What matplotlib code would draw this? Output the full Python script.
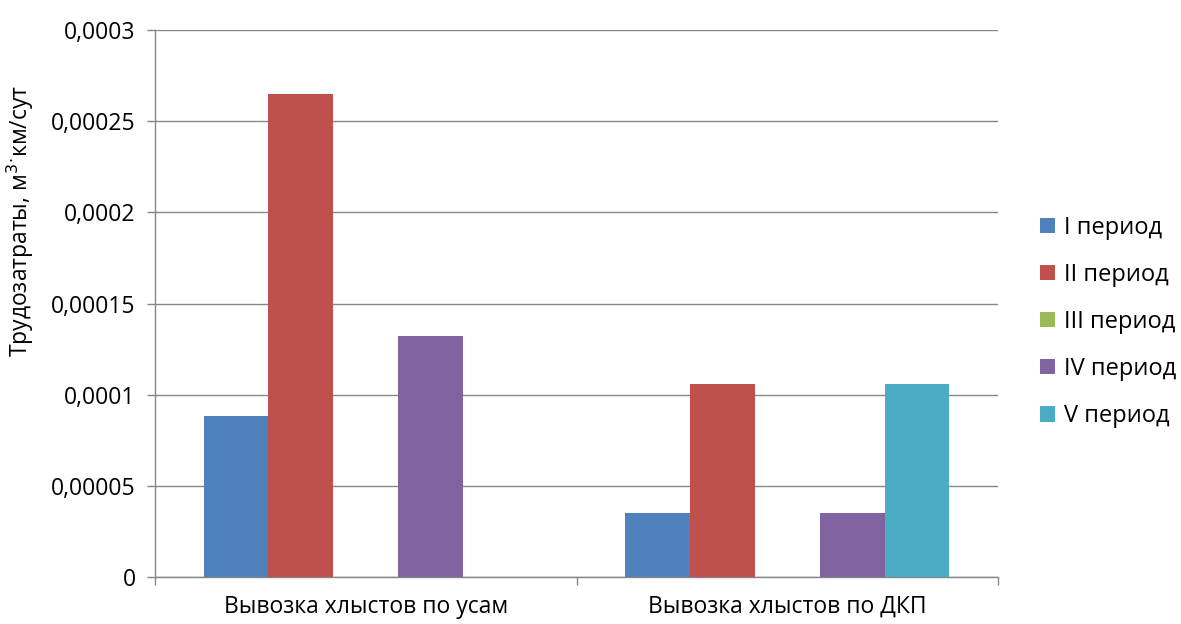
import matplotlib
matplotlib.use("Agg")
import matplotlib.pyplot as plt
from matplotlib.ticker import FixedLocator
import numpy as np

plt.rcParams['font.family'] = ['Open Sans', 'DejaVu Sans']

categories = ["Вывозка хлыстов по усам", "Вывозка хлыстов по ДКП"]
series_names = ["I период", "II период", "III период", "IV период", "V период"]
values = {
    "I период":   [0.0000883, 0.0000353],
    "II период":  [0.0002648, 0.0001059],
    "III период": [0.0, 0.0],
    "IV период":  [0.0001324, 0.0000353],
    "V период":   [0.0, 0.0001059],
}
colors = ["#4F81BD", "#C0504D", "#9BBB59", "#8064A2", "#4BACC6"]
y_ticks = [0, 0.00005, 0.0001, 0.00015, 0.0002, 0.00025, 0.0003]
y_tick_labels = ["0", "0,00005", "0,0001", "0,00015", "0,0002", "0,00025", "0,0003"]

FS = 16.5

fig = plt.figure(figsize=(11.81, 6.24), dpi=100)
ax = fig.add_axes([155 / 1181, 1 - 577 / 624, (998 - 155) / 1181, (577 - 30) / 624])

x = np.arange(len(categories))
w = 1 / 6.5
for i, (name, col) in enumerate(zip(series_names, colors)):
    ax.bar(x + (i - 2) * w, values[name], width=w, color=col, label=name, zorder=3)

ax.set_xlim(-0.5, len(categories) - 0.5)
ax.set_ylim(0, 0.0003)
ax.yaxis.set_major_locator(FixedLocator(y_ticks))
ax.set_yticklabels(y_tick_labels)
ax.yaxis.grid(True, color="#868686", linewidth=1, zorder=0)

ax.set_xticks(x)
ax.set_xticklabels(categories)
ax.tick_params(axis='x', length=0, labelsize=FS, pad=13)
ax.set_xticks([-0.5, 0.5, 1.5], minor=True)
ax.tick_params(axis='x', which='minor', length=6, color="#868686", width=1)
ax.tick_params(axis='y', length=6, color="#868686", width=1, labelsize=FS, pad=8)

for s in ["top", "right"]:
    ax.spines[s].set_visible(False)
for s in ["left", "bottom"]:
    ax.spines[s].set_color("#868686")
    ax.spines[s].set_linewidth(1)

ax.set_ylabel("Трудозатраты, м$^{3}$$^{\\cdot}$км/сут", fontsize=FS)
ax.yaxis.set_label_coords((36 - 155) / 843, (577 - 221) / 547)

ax.legend(loc="center left", bbox_to_anchor=(1040 / 1181, 1 - 322 / 624), bbox_transform=fig.transFigure,
          frameon=False, fontsize=17, handlelength=0.62, handleheight=0.62,
          handletextpad=0.4, labelspacing=0.98, borderaxespad=0, borderpad=0)

fig.savefig("out.png", dpi=100)
